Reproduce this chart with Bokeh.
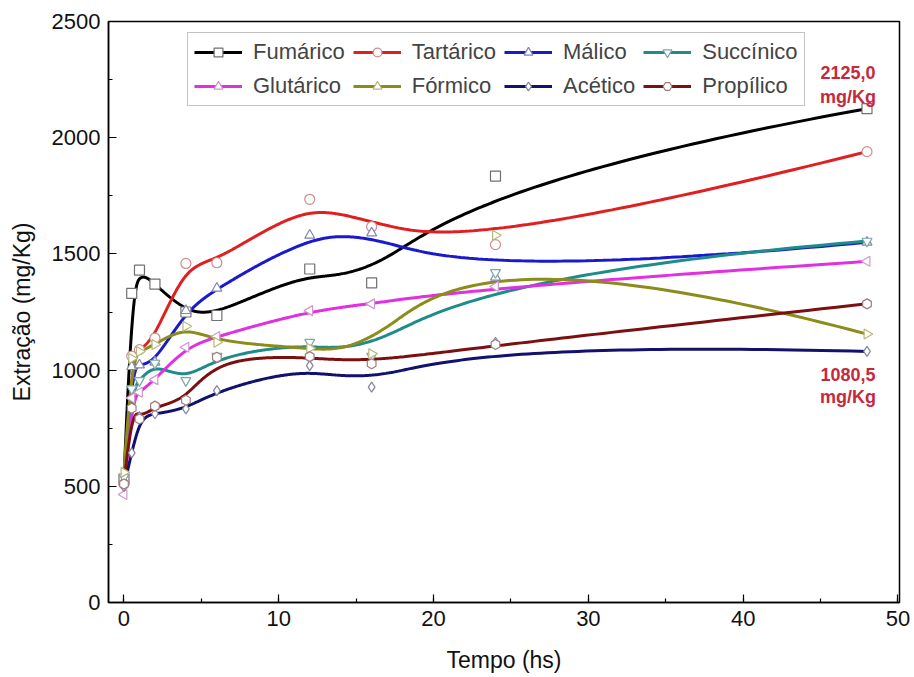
import numpy as np
from bokeh.plotting import figure
from bokeh.models import Range1d, SingleIntervalTicker, Legend, LegendItem, Label
from bokeh.embed import file_html
from bokeh.resources import INLINE

# ---------------- data ----------------
tempo = [0, 0.5, 1, 2, 4, 6, 12, 16, 24, 48]
fumarico = [530, 1330, 1430, 1370, 1250, 1235, 1435, 1375, 1835, 2125]
tartarico = [510, 1060, 1088, 1138, 1459, 1462, 1735, 1617, 1540, 1940]
malico = [520, 1015, 1022, 1034, 1256, 1352, 1580, 1590, 1400, 1550]
succinico = [540, 920, 955, 1030, 955, 1060, 1120, 1060, 1420, 1555]
glutarico = [465, 880, 905, 959, 1098, 1145, 1256, 1285, 1360, 1468]
formico = [560, 1050, 1080, 1110, 1189, 1120, 1094, 1070, 1580, 1155]
acetico = [500, 644, 800, 812, 833, 912, 1019, 927, 1120, 1080.5]
propilico = [510, 836, 790, 845, 870, 1055, 1058, 1027, 1110, 1285]

names = ["Fumárico", "Tartárico", "Málico", "Succínico",
         "Glutárico", "Fórmico", "Acético", "Propílico"]
series = [fumarico, tartarico, malico, succinico,
          glutarico, formico, acetico, propilico]
line_colors = ["#000000", "#e02020", "#1a1acc", "#1f8c8c",
               "#e030e0", "#8c8c1a", "#12126e", "#7a1010"]
marker_colors = ["#707070", "#d08c8c", "#8484b8", "#7aa8a8",
                 "#d098d0", "#b8b878", "#8484a0", "#a07c7c"]
markers = ["square", "circle", "triangle", "inverted_triangle",
           "triangle", "triangle", "diamond", "hex"]
angles = [0, 0, 0, 0, np.pi / 2, -np.pi / 2, 0, np.pi / 2]


def bspline(xs, ys, k=3, n=500):
    """Clamped cubic B-spline with the data points as control points."""
    P = np.column_stack([xs, ys]).astype(float)
    m = len(P)
    inner = np.linspace(0, 1, m - k + 1)
    t = np.concatenate([np.zeros(k), inner, np.ones(k)])
    u = np.linspace(0, 1, n)
    u[-1] = 1 - 1e-10
    N = np.zeros((n, len(t) - 1))
    for i in range(len(t) - 1):
        N[:, i] = ((t[i] <= u) & (u < t[i + 1])).astype(float)
    for d in range(1, k + 1):
        Nn = np.zeros((n, len(t) - 1 - d))
        for i in range(len(t) - 1 - d):
            term = np.zeros(n)
            den1 = t[i + d] - t[i]
            den2 = t[i + d + 1] - t[i + 1]
            if den1 > 0:
                term += (u - t[i]) / den1 * N[:, i]
            if den2 > 0:
                term += (t[i + d + 1] - u) / den2 * N[:, i + 1]
            Nn[:, i] = term
        N = Nn
    C = N @ P
    return C[:, 0], C[:, 1]


FONT = "Liberation Sans"

p = figure(width=912, height=675, output_backend="svg", toolbar_location=None,
           x_range=Range1d(-1, 50.1), y_range=Range1d(0, 2500),
           min_border_left=108, min_border_right=13, min_border_top=21,
           min_border_bottom=71)
p.xgrid.visible = False
p.ygrid.visible = False
p.outline_line_color = "black"
p.outline_line_width = 1.5
p.background_fill_color = "white"
p.border_fill_color = "white"

line_rs = []
for ys, lc in zip(series, line_colors):
    bx, by = bspline(tempo, ys)
    line_rs.append(p.line(bx, by, line_color=lc, line_width=3))

scat_rs = []
for ys, mk, mc, ang in zip(series, markers, marker_colors, angles):
    scat_rs.append(p.scatter(tempo, ys, marker=mk, size=10, angle=ang,
                             line_color=mc, fill_color="white", line_width=1.2))

items = [LegendItem(label=n, renderers=[l, s])
         for n, l, s in zip(names, line_rs, scat_rs)]
legend = Legend(items=items, orientation="horizontal", ncols=4,
                location=(79, 496), glyph_width=48, glyph_height=22,
                label_text_font=FONT, label_text_font_size="22px",
                label_standoff=11, spacing=8, padding=6, margin=0,
                border_line_color="#888888", border_line_width=1,
                label_height=26)
p.add_layout(legend, "center")

for ax in (p.xaxis[0], p.yaxis[0]):
    ax.major_tick_in = 8
    ax.major_tick_out = 0
    ax.minor_tick_in = 4
    ax.minor_tick_out = 0
    ax.axis_line_width = 1.5
    ax.major_tick_line_width = 1.2
    ax.minor_tick_line_width = 1.2
    ax.major_label_text_font = FONT
    ax.major_label_text_font_size = "22px"
    ax.major_label_text_color = "#111111"
    ax.axis_label_text_font = FONT
    ax.axis_label_text_font_size = "23px"
    ax.axis_label_text_font_style = "normal"
    ax.axis_label_text_color = "#111111"
    ax.major_label_standoff = 8

p.xaxis.axis_label_standoff = 18
p.yaxis.axis_label_standoff = 14
p.xaxis.ticker = SingleIntervalTicker(interval=10, num_minor_ticks=2)
p.yaxis.ticker = SingleIntervalTicker(interval=500, num_minor_ticks=2)
p.xaxis.axis_label = "Tempo (hs)"
p.yaxis.axis_label = "Extração (mg/Kg)"

ann_color = "#c8283c"
for txt, yv, off in [("2125,0", fumarico[-1], 36), ("mg/Kg", fumarico[-1], 12),
                     ("1080,5", acetico[-1], -23), ("mg/Kg", acetico[-1], -46)]:
    p.add_layout(Label(x=tempo[-1], y=yv, y_offset=off, x_offset=-19, text=txt,
                       text_align="center", text_baseline="middle",
                       text_font=FONT, text_font_size="18px",
                       text_font_style="bold", text_color=ann_color))

open("out.html", "w").write(file_html(p, INLINE))
